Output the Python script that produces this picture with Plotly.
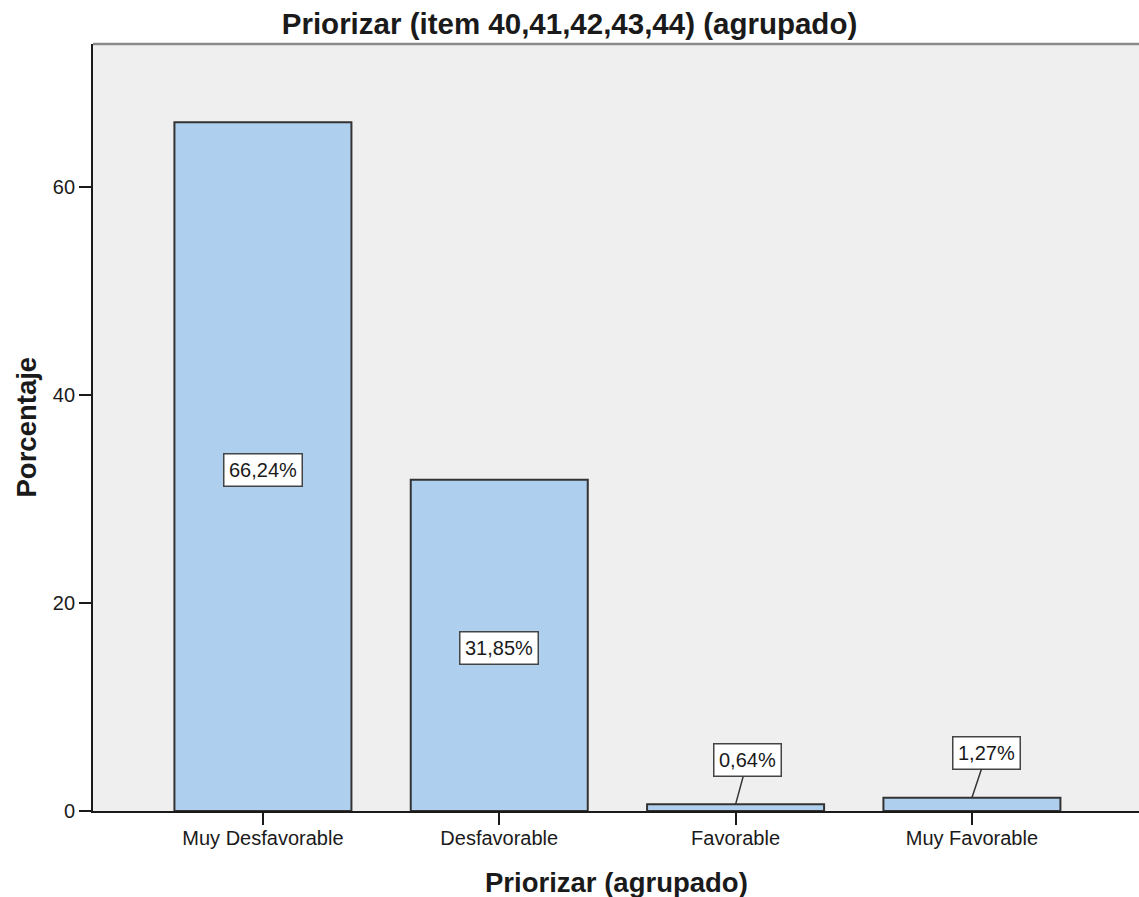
import plotly.graph_objects as go

# Category labels and percentages
categorias = ["Muy Desfavorable", "Desfavorable", "Favorable", "Muy Favorable"]
porcentajes = [66.24, 31.85, 0.64, 1.27]
etiquetas = ["66,24%", "31,85%", "0,64%", "1,27%"]
y_ticks = [0, 20, 40, 60]

FONT = "Liberation Sans, Arial, sans-serif"
TXT = "#1a1a1a"

# Pixel offsets of the callout boxes for the short bars
callout_offsets = {"Favorable": (12, -44), "Muy Favorable": (15, -45)}

fig = go.Figure(
    go.Bar(
        x=categorias,
        y=porcentajes,
        width=0.749,
        marker=dict(color="#aecfee", line=dict(color="#333333", width=2)),
        hoverinfo="skip",
    )
)

# Value labels: inside the tall bars, with leader lines for the short ones
annotations = []
for cat, val, lab in zip(categorias, porcentajes, etiquetas):
    common = dict(
        x=cat, y=val if val < 5 else val / 2, text=lab,
        font=dict(family=FONT, size=20, color=TXT),
        bgcolor="white", bordercolor="#444444", borderwidth=1.5, borderpad=4.5,
        xref="x", yref="y",
    )
    if cat not in callout_offsets:
        annotations.append(dict(common, showarrow=False, yshift=-3))
    else:
        ax, ay = callout_offsets[cat]
        annotations.append(dict(
            common, showarrow=True, arrowhead=0, arrowwidth=1.5,
            arrowcolor="#333333", ax=ax, ay=ay, standoff=0,
        ))

# Axis titles
annotations.append(dict(
    text="<b>Priorizar (agrupado)</b>", xref="paper", yref="paper",
    x=0.5, y=-(883 - 811) / (811 - 44), xanchor="center", yanchor="middle",
    showarrow=False, font=dict(family=FONT, size=27.5, color=TXT),
))
annotations.append(dict(
    text="<b>Porcentaje</b>", xref="paper", yref="paper",
    x=-(93 - 26) / (1139 - 93), y=0.5, xanchor="center", yanchor="middle",
    textangle=-90, showarrow=False, font=dict(family=FONT, size=27.5, color=TXT),
))

fig.update_layout(
    width=1139, height=897,
    margin=dict(l=93, r=0, t=44, b=86),
    paper_bgcolor="white",
    plot_bgcolor="#efefef",
    showlegend=False,
    title=dict(
        text="<b>Priorizar (item 40,41,42,43,44) (agrupado)</b>",
        x=0.5, xanchor="center", xref="container",
        y=1 - 24 / 897, yanchor="middle", yref="container",
        font=dict(family=FONT, size=29.5, color=TXT),
    ),
    annotations=annotations,
    shapes=[dict(
        type="line", xref="paper", yref="paper", x0=0, x1=1, y0=1, y1=1,
        line=dict(color="#8a8a8a", width=2.5),
    )],
    xaxis=dict(
        type="category", range=[-0.719, 3.707],
        showline=True, linecolor="#1a1a1a", linewidth=1.8,
        ticks="outside", ticklen=12, tickwidth=1.5, tickcolor="#1a1a1a",
        tickfont=dict(family=FONT, size=20, color=TXT),
        ticklabelstandoff=-4,
        showgrid=False, zeroline=False,
    ),
    yaxis=dict(
        range=[0, 73.76], tickvals=y_ticks,
        showline=True, linecolor="#1a1a1a", linewidth=1.8,
        ticks="outside", ticklen=12, tickwidth=1.5, tickcolor="#1a1a1a",
        tickfont=dict(family=FONT, size=20, color=TXT),
        showgrid=False, zeroline=False,
    ),
)

fig.write_html("out.html")
